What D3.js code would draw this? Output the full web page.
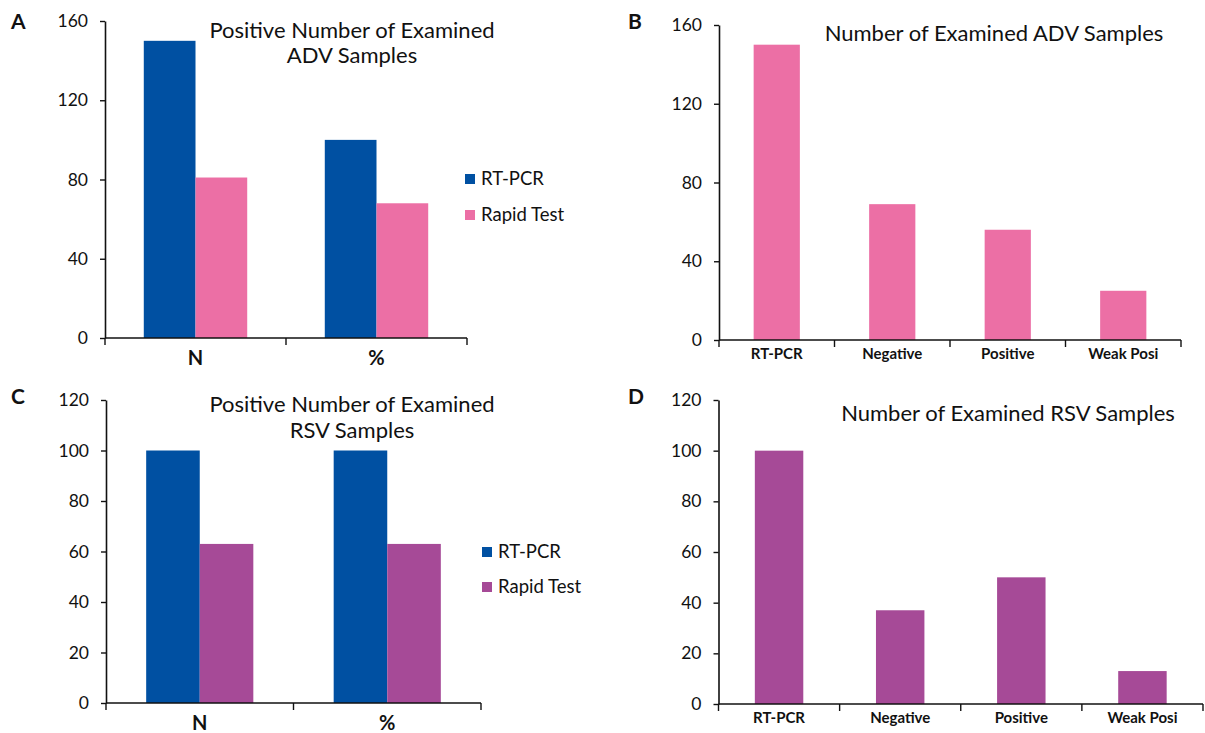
<!DOCTYPE html>
<html><head><meta charset="utf-8">
<script src="https://cdn.jsdelivr.net/npm/d3@7"></script>
<style>body{margin:0;background:#fff} text{font-family:Lato,'Open Sans',sans-serif;fill:#111}</style>
</head><body><svg id="c" width="1205" height="733"></svg>
<script>
const groupCats = ["N", "%"];
const seriesNames = ["RT-PCR", "Rapid Test"];
const advRtPcr = [150, 100];
const advRapid = [81, 68];
const rsvRtPcr = [100, 100];
const rsvRapid = [63, 63];
const resultCats = ["RT-PCR", "Negative", "Positive", "Weak Posi"];
const advResults = [150, 69, 56, 25];
const rsvResults = [100, 37, 50, 13];
const ticksADV = [0, 40, 80, 120, 160];
const ticksRSV = [0, 20, 40, 60, 80, 100, 120];

const BLUE = "#0050A2", PINK = "#EC6FA5", PURPLE = "#A64A97";
const svg = d3.select("#c");
svg.append("rect").attr("width",1205).attr("height",733).attr("fill","#fff");

function axes(g, x, y, cats, ticks, left, right, bottom, labelSize, labelDy) {
  const ya = d3.axisLeft(y).tickValues(ticks).tickSize(5).tickSizeOuter(0).tickPadding(12).tickFormat(d3.format("d"));
  const yg = g.append("g").attr("transform", `translate(${left},0)`).call(ya);
  yg.select(".domain").attr("stroke","#111").attr("stroke-width",1.6);
  yg.selectAll(".tick line").attr("stroke","#111").attr("stroke-width",1.4);
  yg.selectAll(".tick text").style("font-size","17.5px").attr("fill","#111");
  g.append("line").attr("x1", left).attr("x2", right).attr("y1", bottom).attr("y2", bottom)
    .attr("stroke","#111").attr("stroke-width",1.6);
  const bounds = cats.map(c => x(c)).concat([x(cats[cats.length-1]) + x.bandwidth()]);
  g.selectAll(null).data(bounds).enter().append("line")
    .attr("x1", d=>d).attr("x2", d=>d).attr("y1", bottom).attr("y2", bottom+7)
    .attr("stroke","#111").attr("stroke-width",1.4);
  g.selectAll(null).data(cats).enter().append("text")
    .attr("x", d => x(d) + x.bandwidth()/2).attr("y", bottom + labelDy)
    .attr("text-anchor","middle").attr("dy","0.35em")
    .style("font-size", labelSize).style("font-weight","bold").text(d=>d);
}

function grouped(p) {
  const g = svg.append("g");
  const x = d3.scaleBand().domain(groupCats).range([p.left, p.right]).padding(0);
  const y = d3.scaleLinear().domain([0, p.ymax]).range([p.bottom, p.top]);
  const xs = d3.scaleBand().domain(seriesNames).range([0, x.bandwidth()]).paddingInner(0).paddingOuter(0.75);
  const series = [{name: seriesNames[0], vals: p.s1, color: BLUE}, {name: seriesNames[1], vals: p.s2, color: p.color2}];
  series.forEach(s => {
    g.selectAll(null).data(groupCats).enter().append("rect")
      .attr("x", (c) => x(c) + xs(s.name)).attr("width", xs.bandwidth())
      .attr("y", (c,i) => y(s.vals[i])).attr("height", (c,i) => y(0) - y(s.vals[i]))
      .attr("fill", s.color);
  });
  axes(g, x, y, groupCats, p.ticks, p.left, p.right, p.bottom, "20px", 20);
  series.forEach((s, i) => {
    const cy = p.legY[i];
    g.append("rect").attr("x", p.legX).attr("y", cy-5).attr("width", 10).attr("height", 10).attr("fill", s.color);
    g.append("text").attr("x", p.legX + 16).attr("y", cy).attr("dy","0.35em")
      .style("font-size","18.5px").text(s.name);
  });
  p.title.forEach((t, i) => {
    g.append("text").attr("x", p.titleX).attr("y", p.titleY[i]).attr("dy","0.35em")
      .attr("text-anchor","middle").style("font-size","22px").text(t);
  });
  g.append("text").attr("x", p.letterX).attr("y", p.letterY).attr("dy","0.35em")
    .style("font-size","21px").style("font-weight","bold").text(p.letter);
}

function simple(p) {
  const g = svg.append("g");
  const x = d3.scaleBand().domain(resultCats).range([p.left, p.right]).padding(0);
  const y = d3.scaleLinear().domain([0, p.ymax]).range([p.bottom, p.top]);
  const bw = x.bandwidth() / 2.5;
  g.selectAll(null).data(resultCats).enter().append("rect")
    .attr("x", c => x(c) + (x.bandwidth() - bw)/2).attr("width", bw)
    .attr("y", (c,i) => y(p.vals[i])).attr("height", (c,i) => y(0) - y(p.vals[i]))
    .attr("fill", p.color);
  axes(g, x, y, resultCats, p.ticks, p.left, p.right, p.bottom, "15px", 14);
  g.append("text").attr("x", p.titleX).attr("y", p.titleY).attr("dy","0.35em")
    .attr("text-anchor","middle").style("font-size","22px").text(p.title);
  g.append("text").attr("x", p.letterX).attr("y", p.letterY).attr("dy","0.35em")
    .style("font-size","21px").style("font-weight","bold").text(p.letter);
}

grouped({left:105, right:467, top:21, bottom:338, ymax:160, ticks:ticksADV, s1:advRtPcr, s2:advRapid, color2:PINK,
  legX:465, legY:[179,215], title:["Positive Number of Examined","ADV Samples"], titleX:352, titleY:[30,55],
  letter:"A", letterX:11, letterY:22});
simple({left:719, right:1181, top:25, bottom:340, ymax:160, ticks:ticksADV, vals:advResults, color:PINK,
  title:"Number of Examined ADV Samples", titleX:994, titleY:33, letter:"B", letterX:628, letterY:22});
grouped({left:106, right:481, top:400, bottom:703, ymax:120, ticks:ticksRSV, s1:rsvRtPcr, s2:rsvRapid, color2:PURPLE,
  legX:482, legY:[552,587], title:["Positive Number of Examined","RSV Samples"], titleX:352, titleY:[404,430],
  letter:"C", letterX:11, letterY:397});
simple({left:718.5, right:1203, top:400, bottom:704, ymax:120, ticks:ticksRSV, vals:rsvResults, color:PURPLE,
  title:"Number of Examined RSV Samples", titleX:1008, titleY:413, letter:"D", letterX:628, letterY:397});
</script></body></html>
